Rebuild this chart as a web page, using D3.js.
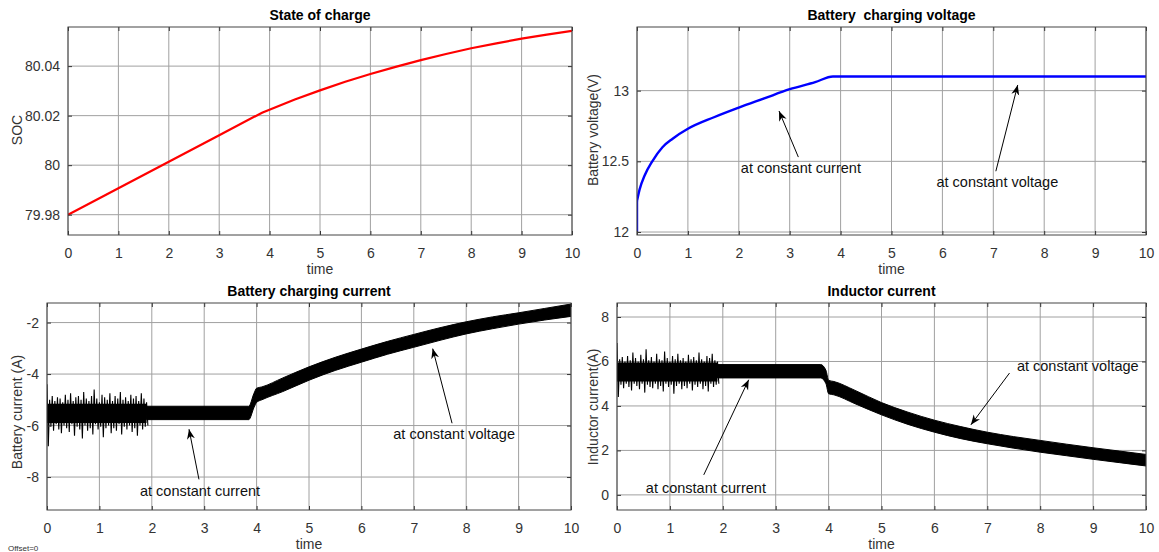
<!DOCTYPE html>
<html lang="en">
<head>
<meta charset="utf-8" />
<title>Battery charging</title>
<script src="https://cdn.jsdelivr.net/npm/d3@7"></script>
<style>
  body { margin: 0; background: #fff; }
  svg { font-family: "Liberation Sans", Arial, sans-serif; }
</style>
</head>
<body>
<svg id="chart" width="1159" height="552"></svg>
<script>
// ---- data ----
const xTicks = [0, 1, 2, 3, 4, 5, 6, 7, 8, 9, 10];

// state of charge
const socTime = [0, 1, 2, 3, 3.85, 4.5, 5, 5.5, 6, 6.5, 7, 7.5, 8, 8.5, 9, 9.5, 10];
const socVal = [79.98, 79.9907, 80.0014, 80.0121, 80.0212, 80.0265, 80.0302, 80.0337, 80.0368,
  80.0397, 80.0424, 80.0449, 80.0472, 80.0492, 80.0511, 80.0527, 80.0542];
const socTicks = [79.98, 80, 80.02, 80.04];

// battery voltage: jumps from 12 V to its first value at t = 0
const voltStart = 12;
const voltTime = [0, 0.05, 0.15, 0.3, 0.5, 0.7, 1, 1.5, 2, 2.5, 3, 3.5, 3.85, 5, 6, 7, 8, 9, 10];
const voltVal = [12.22, 12.3, 12.4, 12.5, 12.6, 12.66, 12.73, 12.81, 12.88, 12.945, 13.01, 13.06, 13.1,
  13.1, 13.1, 13.1, 13.1, 13.1, 13.1];
const voltTicks = [12, 12.5, 13];

// ripple extremes in the noisy start-up stretch (0 .. 1.9 s)
const noiseTime = [0, 0.05, 0.1, 0.15, 0.2, 0.25, 0.3, 0.35, 0.4, 0.45, 0.5, 0.55, 0.6, 0.65, 0.7, 0.75,
  0.8, 0.85, 0.9, 0.95, 1, 1.05, 1.1, 1.15, 1.2, 1.25, 1.3, 1.35, 1.4, 1.45, 1.5, 1.55, 1.6, 1.65, 1.7,
  1.75, 1.8, 1.85, 1.9];
const batNoiseHi = [-4.40, -5.00, -4.85, -5.05, -4.90, -4.95, -5.10, -4.80, -5.00, -4.75, -5.05, -4.90,
  -4.85, -5.00, -4.70, -4.95, -5.05, -4.85, -4.60, -4.95, -5.10, -4.80, -4.90, -5.00, -4.75, -5.05, -4.85,
  -4.95, -4.70, -5.00, -4.90, -5.05, -4.80, -4.95, -4.85, -5.05, -4.75, -4.95, -5.10];
const batNoiseLo = [-6.80, -6.05, -6.20, -5.95, -6.15, -6.30, -6.00, -6.10, -6.25, -5.95, -6.40, -6.05,
  -6.15, -6.50, -6.00, -6.20, -6.10, -6.35, -5.95, -6.15, -6.05, -6.45, -6.10, -6.00, -6.30, -6.10, -6.20,
  -5.95, -6.35, -6.05, -6.15, -6.00, -6.25, -6.10, -6.40, -6.00, -6.15, -6.05, -6.00];
const indNoiseHi = [6.83, 6.10, 6.20, 6.00, 6.25, 6.05, 6.40, 6.15, 6.00, 6.30, 6.10, 6.55, 6.05, 6.20,
  6.00, 6.35, 6.10, 6.05, 6.45, 6.15, 6.00, 6.25, 6.10, 6.35, 6.05, 6.15, 6.00, 6.30, 6.10, 6.20, 6.05,
  6.40, 6.10, 6.00, 6.25, 6.15, 6.35, 6.05, 6.00];
const indNoiseLo = [4.40, 4.95, 4.80, 5.00, 4.85, 4.70, 5.00, 4.90, 4.75, 5.00, 4.60, 4.95, 4.85, 4.80,
  5.00, 4.75, 4.90, 4.65, 5.00, 4.85, 4.95, 4.55, 4.90, 5.00, 4.75, 4.90, 4.80, 5.00, 4.70, 4.95, 4.85,
  5.00, 4.75, 4.90, 4.65, 5.00, 4.85, 4.95, 5.00];
// solid core of the start-up ripple
const coreTime = [0, 1.9];
const batCoreHi = [-5.15, -5.15];
const batCoreLo = [-5.9, -5.9];
const indCoreHi = [5.95, 5.95];
const indCoreLo = [5.1, 5.1];

// ripple band after start-up (1.9 .. 10 s)
const bandTime = [1.9, 3.85, 3.95, 4.0, 4.1, 4.5, 5, 5.5, 6, 6.5, 7, 7.5, 8, 8.5, 9, 9.5, 10];
const batBandHi = [-5.25, -5.25, -4.75, -4.55, -4.5, -4.15, -3.72, -3.35, -3.03, -2.73, -2.46, -2.2,
  -1.97, -1.78, -1.62, -1.45, -1.28];
const batBandLo = [-5.77, -5.77, -5.3, -5.1, -5.0, -4.68, -4.24, -3.86, -3.54, -3.23, -2.96, -2.69,
  -2.44, -2.24, -2.06, -1.9, -1.76];
const indBandHi = [5.86, 5.86, 5.6, 5.15, 5.1, 4.7, 4.15, 3.72, 3.36, 3.07, 2.82, 2.62, 2.45, 2.28, 2.12,
  1.97, 1.82];
const indBandLo = [5.26, 5.26, 5.0, 4.55, 4.5, 4.1, 3.6, 3.17, 2.82, 2.53, 2.3, 2.1, 1.92, 1.76, 1.6,
  1.45, 1.3];
const batTicks = [-8, -6, -4, -2];
const indTicks = [0, 2, 4, 6, 8];

const svg = d3.select("#chart");
const plain = d => String(d);   // keep ASCII hyphen for negatives

function panel(cfg) {
  const x = d3.scaleLinear().domain([0, 10]).range([cfg.left, cfg.right]);
  const y = d3.scaleLinear().domain(cfg.yDomain).range([cfg.bottom, cfg.top]);
  const g = svg.append("g");
  const w = cfg.right - cfg.left, h = cfg.bottom - cfg.top;

  // grid
  g.append("g").selectAll("line").data(xTicks).join("line")
    .attr("x1", d => x(d)).attr("x2", d => x(d))
    .attr("y1", cfg.top).attr("y2", cfg.bottom)
    .attr("stroke", "#a0a0a0").attr("stroke-width", 1);
  g.append("g").selectAll("line").data(cfg.yTicks).join("line")
    .attr("x1", cfg.left).attr("x2", cfg.right)
    .attr("y1", d => y(d)).attr("y2", d => y(d))
    .attr("stroke", "#a0a0a0").attr("stroke-width", 1);

  // data, clipped to the plot box
  const clipId = "clip" + cfg.id;
  svg.append("clipPath").attr("id", clipId).append("rect")
    .attr("x", cfg.left).attr("y", cfg.top).attr("width", w).attr("height", h);
  const plot = g.append("g").attr("clip-path", `url(#${clipId})`);
  cfg.draw(plot, x, y);

  // axes
  const xa = g.append("g").attr("transform", `translate(0,${cfg.bottom})`)
    .call(d3.axisBottom(x).tickValues(xTicks).tickFormat(plain).tickSize(-4).tickPadding(13));
  const ya = g.append("g").attr("transform", `translate(${cfg.left},0)`)
    .call(d3.axisLeft(y).tickValues(cfg.yTicks).tickFormat(plain).tickSize(-4).tickPadding(8));
  g.append("g").attr("transform", `translate(${cfg.right},0)`)
    .call(d3.axisRight(y).tickValues(cfg.yTicks).tickSize(-4).tickFormat(""));
  g.append("g").attr("transform", `translate(0,${cfg.top})`)
    .call(d3.axisTop(x).tickValues(xTicks).tickSize(-4).tickFormat(""));
  g.selectAll(".domain").remove();
  g.selectAll(".tick line").attr("stroke", "#333");
  [xa, ya].forEach(a => a.selectAll(".tick text")
    .attr("font-size", 14).attr("fill", "#333").attr("font-family", "Liberation Sans, Arial, sans-serif"));

  g.append("rect")
    .attr("x", cfg.left).attr("y", cfg.top).attr("width", w).attr("height", h)
    .attr("fill", "none").attr("stroke", "#444").attr("stroke-width", 1);

  // labels
  g.append("text")
    .attr("x", (cfg.left + cfg.right) / 2).attr("y", cfg.top - 7)
    .attr("text-anchor", "middle").attr("font-size", 14).attr("font-weight", "bold")
    .style("white-space", "pre")
    .text(cfg.title);
  g.append("text")
    .attr("x", (cfg.left + cfg.right) / 2).attr("y", cfg.bottom + 39)
    .attr("text-anchor", "middle").attr("font-size", 14).attr("fill", "#333")
    .text("time");
  g.append("text")
    .attr("transform", `translate(${cfg.ylabX},${cfg.ylabY}) rotate(-90)`)
    .attr("text-anchor", "middle").attr("font-size", 14).attr("fill", "#333")
    .text(cfg.ylabel);

  (cfg.notes || []).forEach(n => {
    g.append("line")
      .attr("x1", x(n.from[0])).attr("y1", y(n.from[1]))
      .attr("x2", x(n.to[0])).attr("y2", y(n.to[1]))
      .attr("stroke", "#000").attr("stroke-width", 1)
      .attr("marker-end", "url(#arrow)");
    g.append("text")
      .attr("x", x(n.at[0])).attr("y", y(n.at[1]))
      .attr("text-anchor", "middle").attr("font-size", 14.5).attr("fill", "#111")
      .text(n.text);
  });
}

svg.append("defs").append("marker")
  .attr("id", "arrow").attr("viewBox", "0 0 10 10").attr("refX", 10).attr("refY", 5)
  .attr("markerWidth", 10).attr("markerHeight", 10).attr("markerUnits", "userSpaceOnUse")
  .attr("orient", "auto")
  .append("path").attr("d", "M0,1 L10,5 L0,9 L3,5 Z").attr("fill", "#000");

function lineOf(times, vals, x, y, curve) {
  return d3.line().curve(curve || d3.curveLinear)
    .x(d => x(times[d])).y(d => y(vals[d]))(d3.range(times.length));
}
// ripple drawn as a zigzag between the high and low extremes of each sample
function zigzagOf(times, hi, lo, x, y) {
  const step = x(times[1]) - x(times[0]);
  const pts = [];
  times.forEach((t, i) => {
    pts.push([x(t), y(hi[i])]);
    pts.push([x(t) + step / 2, y(lo[i])]);
  });
  return d3.line()(pts);
}
function bandOf(times, hi, lo, x, y, curve) {
  return d3.area().curve(curve || d3.curveMonotoneX)
    .x(d => x(times[d])).y0(d => y(lo[d])).y1(d => y(hi[d]))(d3.range(times.length));
}
function drawCurrent(p, x, y, nHi, nLo, cHi, cLo, bHi, bLo) {
  p.append("path").attr("d", bandOf(coreTime, cHi, cLo, x, y, d3.curveLinear))
    .attr("fill", "#000");
  p.append("path").attr("d", zigzagOf(noiseTime, nHi, nLo, x, y))
    .attr("fill", "none").attr("stroke", "#000").attr("stroke-width", 1.1);
  p.append("path").attr("d", bandOf(bandTime, bHi, bLo, x, y))
    .attr("fill", "#000").attr("stroke", "#000").attr("stroke-width", 1);
}
function drawVoltage(p, x, y) {
  p.append("path")
    .attr("d", d3.line()([[x(0), y(voltStart)], [x(voltTime[0]), y(voltVal[0])]]))
    .attr("fill", "none").attr("stroke", "#0000ff").attr("stroke-width", 2.4);
  p.append("path").attr("d", lineOf(voltTime, voltVal, x, y, d3.curveMonotoneX))
    .attr("fill", "none").attr("stroke", "#0000ff").attr("stroke-width", 2.4);
}

panel({
  id: 1, left: 68, right: 572, top: 27, bottom: 235,
  yDomain: [79.9718, 80.0558], yTicks: socTicks,
  title: "State of charge", ylabel: "SOC", ylabX: 22, ylabY: 130,
  draw: (p, x, y) => p.append("path").attr("d", lineOf(socTime, socVal, x, y))
    .attr("fill", "none").attr("stroke", "#ff0000").attr("stroke-width", 2.2)
});

panel({
  id: 2, left: 637, right: 1146, top: 27, bottom: 235,
  yDomain: [11.979, 13.45], yTicks: voltTicks,
  title: "Battery  charging voltage", ylabel: "Battery voltage(V)", ylabX: 598, ylabY: 130,
  draw: drawVoltage,
  notes: [
    { text: "at constant current", at: [3.22, 12.415], from: [3.17, 12.53], to: [2.79, 12.856] },
    { text: "at constant voltage", at: [7.08, 12.317], from: [7.05, 12.43], to: [7.48, 13.04] }
  ]
});

panel({
  id: 3, left: 47, right: 571, top: 303, bottom: 510,
  yDomain: [-9.28, -1.24], yTicks: batTicks,
  title: "Battery charging current", ylabel: "Battery current (A)", ylabX: 22, ylabY: 412,
  draw: (p, x, y) => drawCurrent(p, x, y, batNoiseHi, batNoiseLo, batCoreHi, batCoreLo, batBandHi, batBandLo),
  notes: [
    { text: "at constant current", at: [2.92, -8.73], from: [2.90, -8.09], to: [2.71, -6.14] },
    { text: "at constant voltage", at: [7.77, -6.52], from: [7.73, -5.91], to: [7.36, -3.01] }
  ]
});

panel({
  id: 4, left: 617, right: 1146, top: 303, bottom: 510,
  yDomain: [-0.68, 8.63], yTicks: indTicks,
  title: "Inductor current", ylabel: "Inductor current(A)", ylabX: 598, ylabY: 407,
  draw: (p, x, y) => drawCurrent(p, x, y, indNoiseHi, indNoiseLo, indCoreHi, indCoreLo, indBandHi, indBandLo),
  notes: [
    { text: "at constant current", at: [1.68, 0.09], from: [1.64, 0.9], to: [2.49, 5.18] },
    { text: "at constant voltage", at: [8.71, 5.59], from: [7.42, 5.48], to: [6.69, 3.15] }
  ]
});

svg.append("text").attr("x", 8).attr("y", 551).attr("font-size", 8).attr("fill", "#333")
  .text("Offset=0");
</script>
</body>
</html>
